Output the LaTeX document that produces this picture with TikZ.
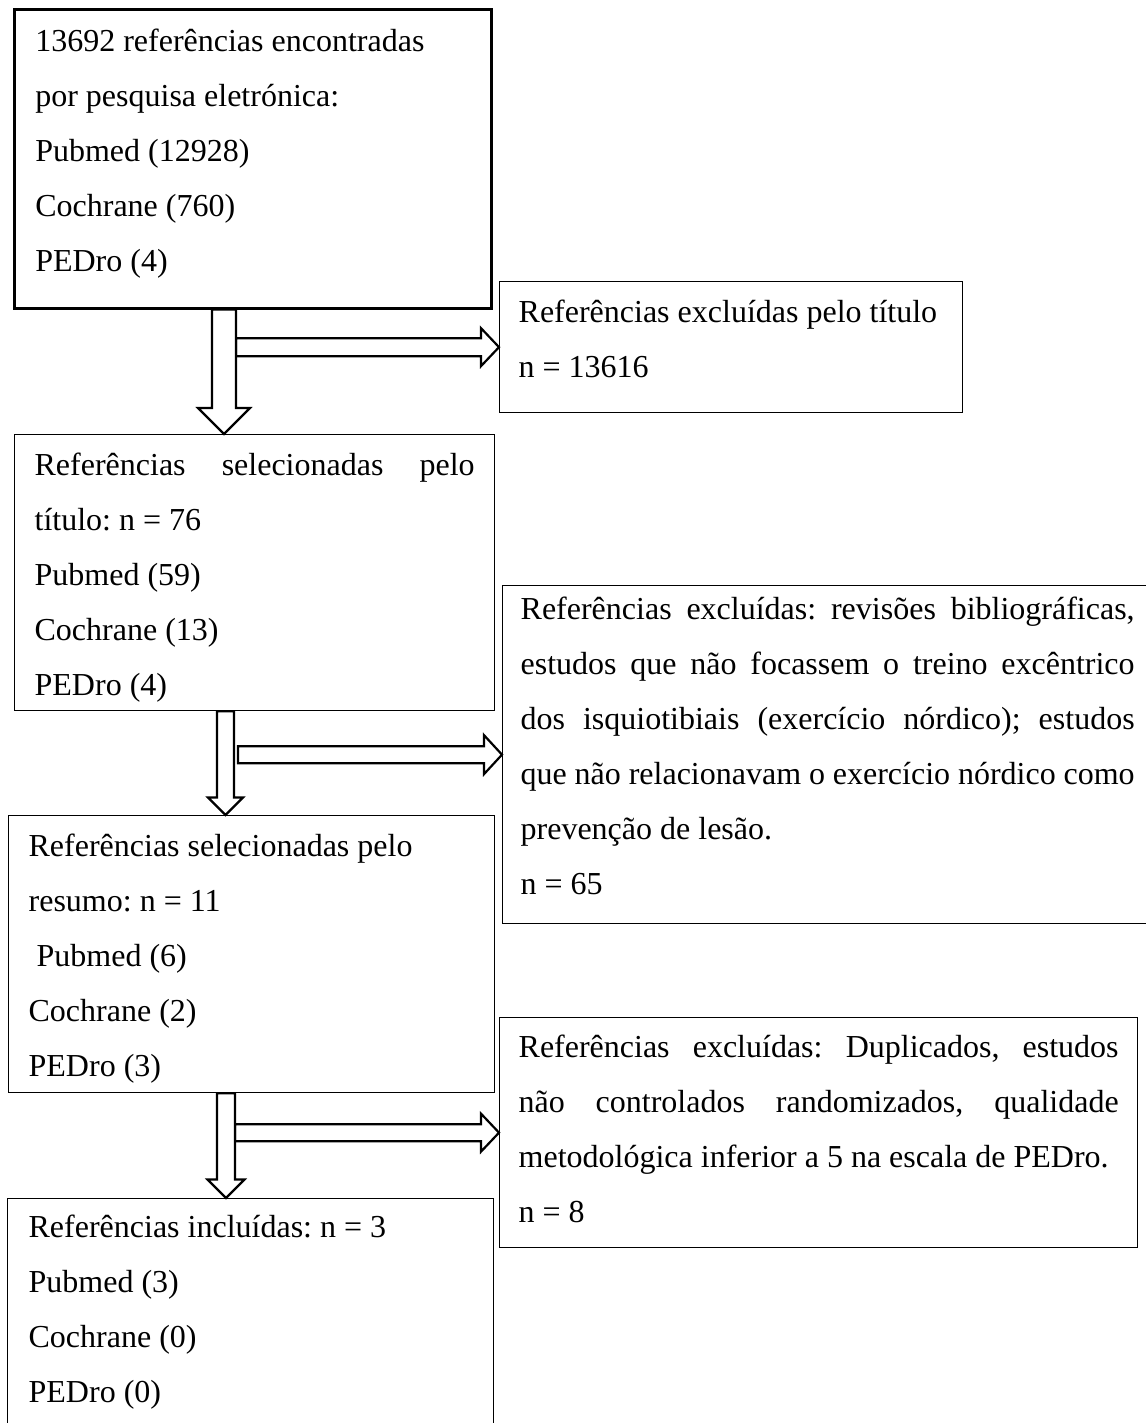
\documentclass[tikz,border=0pt]{standalone}
\usepackage{fontspec}
\setmainfont{Liberation Serif}
\usetikzlibrary{calc}

\tikzset{
  stagebox/.style={draw, line width=0.65pt, anchor=north west, inner ysep=0pt,
    align=justify, font=\fontsize{16}{27.5}\selectfont\frenchspacing},
  blockarrow/.style={draw, fill=white, line width=1.1pt, line join=miter}
}

\newcommand{\downblock}[5]{%
  \draw[blockarrow] ($(#1.south -| #3)+(-#4,0)$) -- ($(#2.north -| #3)+(-#4,-#5)$)
    -- ++(#4-#5,0) -- (#2.north -| #3) -- ++(#5,-#5) -- ++(#4-#5,0)
    -- ($(#1.south -| #3)+(#4,0)$) -- cycle;}
\newcommand{\sideblock}[5]{%
  \draw[blockarrow] ($(#2.west -| #1)+(0,-#3)$) -- ($(#2.west)+(-#5,-#3)$)
    -- ++(0,#3-#4) -- (#2.west) -- ($(#2.west)+(-#5,#4)$) -- ++(0,#3-#4)
    -- ($(#2.west -| #1)+(0,#3)$) -- cycle;}

\begin{document}
\begin{tikzpicture}[x=0.5pt, y=-0.5pt]
  \useasboundingbox (0,0) rectangle (1145,1423);

  \node[stagebox, line width=1.3pt, inner xsep=10.5pt, text width=217.5pt,
    text height=21pt, text depth=128.5pt] (search) at (13,8)
    {13692 referências encontradas\newline por pesquisa eletrónica:\newline
     Pubmed (12928)\newline Cochrane (760)\newline PEDro (4)};
  \node[stagebox, inner xsep=9.5pt, text width=212.5pt,
    text height=20.5pt, text depth=45pt] (titleout) at (499,281)
    {Referências excluídas pelo título\newline n = 13616};
  \node[stagebox, inner xsep=10pt, text width=220pt,
    text height=20.5pt, text depth=117.5pt] (titlesel) at (14,434)
    {Referências selecionadas pelo\linebreak título: n = 76\newline
     Pubmed (59)\newline Cochrane (13)\newline PEDro (4)};
  \node[stagebox, inner xsep=9pt, text width=307pt,
    text height=17pt, text depth=152pt] (abstractout) at (502,585)
    {Referências excluídas: revisões bibliográficas,\linebreak
     estudos que não focassem o treino excêntrico\linebreak
     dos isquiotibiais (exercício nórdico); estudos\linebreak
     que não relacionavam o exercício nórdico como\linebreak
     prevenção de lesão.\newline n = 65};
  \node[stagebox, inner xsep=10pt, text width=223pt,
    text height=20.5pt, text depth=118pt] (abstractsel) at (8,815)
    {Referências selecionadas pelo\newline resumo: n = 11\newline
     \hspace*{4pt}Pubmed (6)\newline Cochrane (2)\newline PEDro (3)};
  \node[stagebox, inner xsep=9.5pt, text width=300pt,
    text height=20pt, text depth=95pt] (fulltextout) at (499,1017)
    {Referências excluídas: Duplicados, estudos\linebreak
     não controlados randomizados, qualidade\linebreak
     metodológica inferior a 5 na escala de PEDro.\newline n = 8};
  \node[stagebox, inner xsep=10.5pt, text width=222pt,
    text height=19.5pt, text depth=101.5pt] (included) at (7,1198)
    {Referências incluídas: n = 3\newline Pubmed (3)\newline
     Cochrane (0)\newline PEDro (0)};

  \coordinate (axisA) at (224,0);
  \coordinate (axisB) at (225.5,0);
  \coordinate (axisC) at (226,0);
  \coordinate (sideA) at (236,0);
  \coordinate (sideB) at (238,0);
  \coordinate (sideC) at (235,0);

  \sideblock{sideA}{titleout}{9}{19}{18}
  \downblock{search}{titlesel}{axisA}{12}{26}
  \sideblock{sideB}{abstractout}{8.5}{19.5}{18}
  \downblock{titlesel}{abstractsel}{axisB}{8.5}{17.5}
  \sideblock{sideC}{fulltextout}{8.5}{19}{18}
  \downblock{abstractsel}{included}{axisC}{9}{18.5}
\end{tikzpicture}
\end{document}
